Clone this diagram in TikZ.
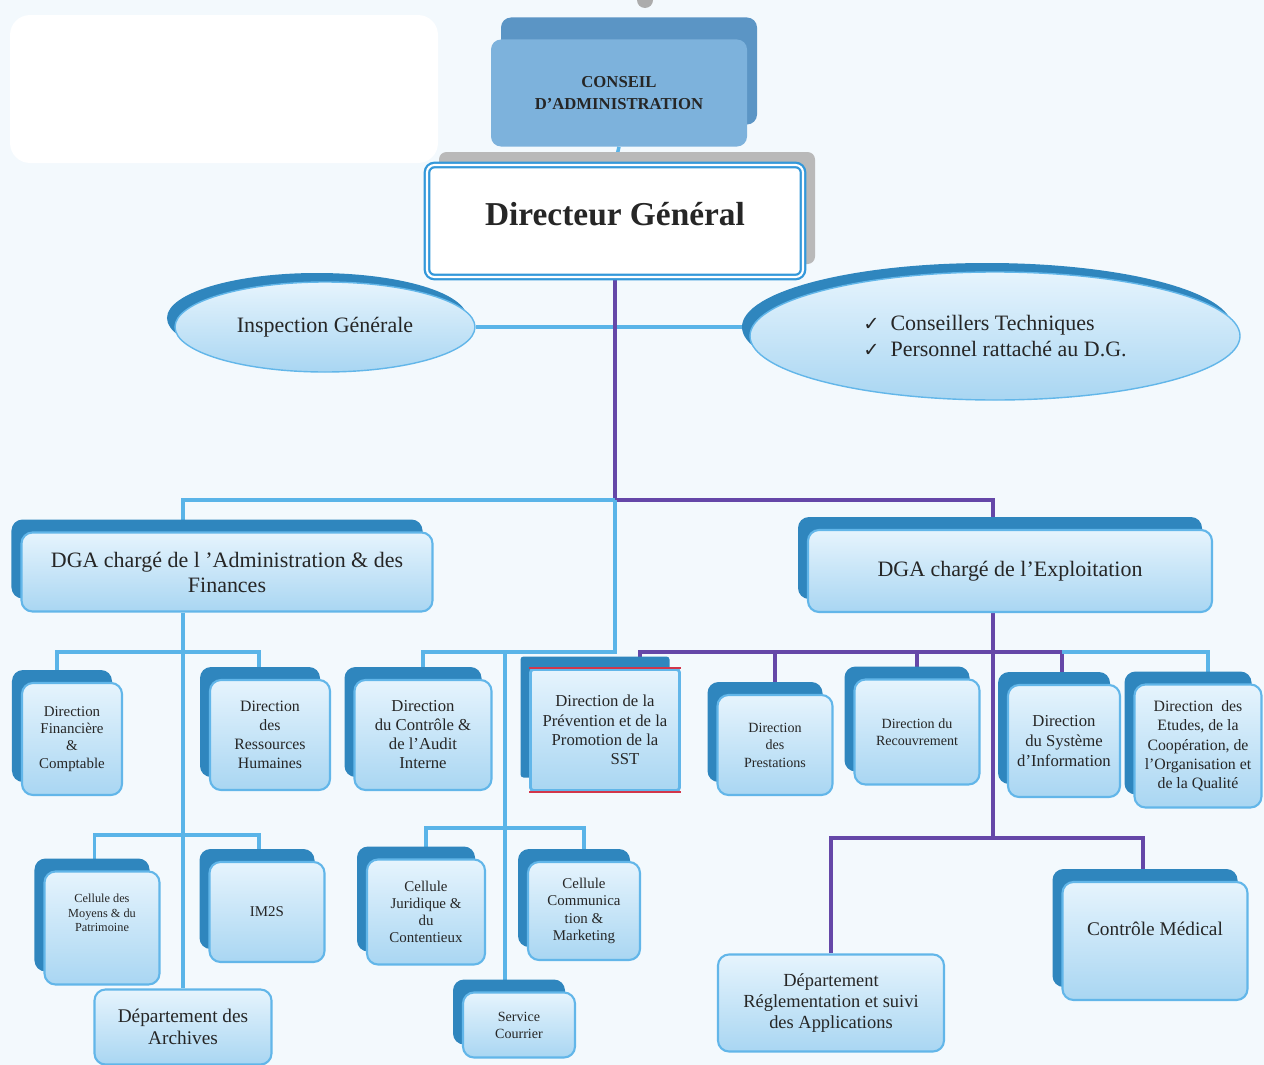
\documentclass[tikz,border=0pt]{standalone}
\usepackage{fontspec}
\setmainfont{Liberation Serif}
\newfontfamily\checkfont{DejaVu Sans}
\usetikzlibrary{shapes.geometric}
\usetikzlibrary{shadows}
\usetikzlibrary{backgrounds}

\definecolor{pagetint}{HTML}{F3F9FD}
\definecolor{ink}{HTML}{262626}
\definecolor{linkblue}{HTML}{5AB4E8}
\definecolor{linkpurple}{HTML}{6547A8}
\definecolor{rimblue}{HTML}{62B6E9}
\definecolor{dgrim}{HTML}{3398DA}
\definecolor{backblue}{HTML}{2F86BE}
\definecolor{faceTop}{HTML}{E6F4FD}
\definecolor{faceBot}{HTML}{A9D6F2}
\definecolor{caFront}{HTML}{7DB2DC}
\definecolor{caBack}{HTML}{5B95C5}
\definecolor{sstred}{HTML}{D2364B}

\begin{document}
\begin{tikzpicture}[x=0.2mm, y=-0.2mm]

\tikzset{unitbox/.style={rectangle, rounded corners=2.2mm, draw=rimblue, line width=1.2pt,
                         top color=faceTop, bottom color=faceBot, text=ink, align=center, inner sep=1pt,
                         general shadow={fill=backblue, shadow xshift=-2mm, shadow yshift=2.6mm}},
         flatbox/.style={rectangle, rounded corners=2.2mm, draw=rimblue, line width=1.2pt,
                         top color=faceTop, bottom color=faceBot, text=ink, align=center, inner sep=1pt},
         oval/.style={ellipse, draw=rimblue, line width=0.8pt, top color=faceTop, bottom color=faceBot,
                      text=ink, align=left, inner sep=0pt,
                      general shadow={fill=backblue, shadow xshift=-1.6mm, shadow yshift=1.8mm}},
         caface/.style={rectangle, rounded corners=2mm, fill=caFront, text=ink, align=center,
                        font=\bfseries\fontsize{9.5}{12.5}\selectfont,
                        general shadow={fill=caBack, shadow xshift=2mm, shadow yshift=4.4mm}},
         dgface/.style={rectangle, rounded corners=1.5mm, fill=white, draw=dgrim, line width=1.3pt,
                        double=white, double distance=1.2pt, text=ink, text depth=3mm,
                        font=\bfseries\fontsize{19}{22}\selectfont,
                        general shadow={fill=gray!55, shadow xshift=2.4mm, shadow yshift=2.6mm}},
         blueline/.style={draw=linkblue, line width=2pt},
         purpleline/.style={draw=linkpurple, line width=1.8pt}}

\useasboundingbox (0,0) rectangle (1264,1065);

%top of the chart
\node[caface, minimum width=51.2mm, minimum height=21.4mm] (ca) at (619,93) {CONSEIL\\D’ADMINISTRATION};
\node[dgface, minimum width=75.2mm, minimum height=22.4mm] (dg) at (615,221) {Directeur Général};

\node[oval, minimum width=60mm, minimum height=18mm, font=\fontsize{12.5}{14}\selectfont] (ig) at (325,327) {Inspection Générale};
\node[oval, minimum width=98mm, minimum height=25.6mm, font=\fontsize{12.5}{14.8}\selectfont] (ct) at (995,336)
     {{\checkfont\fontsize{11}{11}\selectfont ✓}\hspace{2.2mm}Conseillers Techniques\\
      {\checkfont\fontsize{11}{11}\selectfont ✓}\hspace{2.2mm}Personnel rattaché au D.G.};

%DGA
\node[unitbox, minimum width=82.2mm, minimum height=15.8mm, font=\fontsize{12.5}{14.2}\selectfont] (dgaA) at (227,572)
     {DGA chargé de l ’Administration \& des\\Finances};
\node[unitbox, minimum width=80.8mm, minimum height=16.4mm, font=\fontsize{12.5}{14.2}\selectfont] (dgaB) at (1010,571)
     {DGA chargé de l’Exploitation};

%directions
\node[unitbox, minimum width=20mm, minimum height=22.4mm, font=\fontsize{8.5}{9.8}\selectfont] (dfc) at (72,739)
     {Direction\\Financière\\\&\\Comptable};
\node[unitbox, minimum width=24mm, minimum height=22mm, font=\fontsize{9}{10.8}\selectfont] (drh) at (270,735)
     {Direction\\des\\Ressources\\Humaines};
\node[unitbox, minimum width=27.4mm, minimum height=22mm, font=\fontsize{9.5}{10.8}\selectfont] (dcai) at (423,735)
     {Direction\\du Contrôle \&\\de l’Audit\\Interne};
\node[unitbox, rounded corners=0.6mm, line width=1.6pt, minimum width=29.8mm, minimum height=24.2mm,
      font=\fontsize{9.5}{11}\selectfont] (dpps) at (605,730)
     {Direction de la\\Prévention et de la\\Promotion de la\\\hspace*{8mm}SST};
\node[unitbox, minimum width=23mm, minimum height=20mm, font=\fontsize{8}{10}\selectfont] (dp) at (775,745)
     {Direction\\des\\Prestations};
\node[unitbox, minimum width=25mm, minimum height=21mm, font=\fontsize{8}{9.5}\selectfont] (dr) at (917,732)
     {Direction du\\Recouvrement};
\node[unitbox, minimum width=22.4mm, minimum height=22.4mm, font=\fontsize{9.5}{11.4}\selectfont] (dsi) at (1064,741)
     {Direction\\du Système\\d’Information};
\node[unitbox, minimum width=25.4mm, minimum height=24.6mm, font=\fontsize{9}{11}\selectfont] (decoq) at (1198,746)
     {Direction\ \ des\\Etudes, de la\\Coopération, de\\l’Organisation et\\de la Qualité};

%cells and services
\node[unitbox, minimum width=23mm, minimum height=22.6mm, font=\fontsize{7}{8.2}\selectfont, text depth=6mm] (cmp) at (102,928)
     {Cellule des\\Moyens \& du\\Patrimoine};
\node[unitbox, minimum width=23mm, minimum height=20mm, font=\fontsize{8.5}{10}\selectfont] (im2s) at (267,912) {IM2S};
\node[unitbox, minimum width=23.6mm, minimum height=21mm, font=\fontsize{8.5}{9.7}\selectfont] (cjc) at (426,912)
     {Cellule\\Juridique \&\\du\\Contentieux};
\node[unitbox, minimum width=22.4mm, minimum height=19.6mm, font=\fontsize{8.5}{9.9}\selectfont] (ccm) at (584,911)
     {Cellule\\Communica\\tion \&\\Marketing};
\node[unitbox, minimum width=22.4mm, minimum height=13mm, font=\fontsize{8}{9.7}\selectfont] (sc) at (519,1025)
     {Service\\Courrier};
\node[flatbox, minimum width=35.4mm, minimum height=15mm, font=\fontsize{11}{12.5}\selectfont] (arch) at (183,1027)
     {Département des\\Archives};
\node[flatbox, minimum width=45.2mm, minimum height=19.4mm, font=\fontsize{10.5}{12.2}\selectfont] (drsa) at (831,1003)
     {Département\\Réglementation et suivi\\des Applications};
\node[unitbox, minimum width=37mm, minimum height=23.6mm, font=\fontsize{11}{13}\selectfont, text depth=5mm] (cm) at (1155,941)
     {Contrôle Médical};

%red frame of the SST box
\draw[sstred, line width=0.8pt] (dpps.north west) -- (dpps.north east);
\draw[sstred, line width=0.8pt] (dpps.south west) -- (dpps.south east);

\begin{scope}[on background layer]
\fill[pagetint] (0,0) rectangle (1264,1065);
\fill[white, rounded corners=4mm] (10,15) rectangle (438,163);
\fill[gray!65] (653,0) arc[start angle=0, end angle=180, radius=8];

%bus points
\coordinate (jA) at (615,500);
\coordinate (jC) at (615,652);
\coordinate (jE) at (993,652);
\coordinate (bL1) at (183,652);
\coordinate (bL2) at (183,835);
\coordinate (bC) at (505,828);
\coordinate (tSC) at (505,652);
\coordinate (tDSI) at (1062,652);
\coordinate (bE) at (993,838);

%links of the general direction
\draw[blueline] (ca.south) -- (dg.north);
\draw[blueline] (ig.east) -- (ct.west |- ig.east);
\draw[purpleline] (dg.south) -- (jA);
\draw[blueline] (jA) -| (arch.north |- dgaA.north);
\draw[purpleline] (jA) -| (jE |- dgaB.north);

%links under DGA administration
\draw[blueline] (arch.north |- dgaA.south) -- (arch.north);
\draw[blueline] ([xshift=-3mm]dfc.north) |- (bL1) -| ([xshift=-2.2mm]drh.north);
\draw[blueline] ([xshift=-1.5mm]cmp.north) |- (bL2) -| ([xshift=-1.6mm]im2s.north);
\draw[blueline] (jA) -- (jC) -| (dcai.north);
\draw[blueline] (tSC) -- (tSC |- sc.north);
\draw[blueline] (cjc.north) |- (bC) -| (ccm.north);

%links under DGA exploitation
\draw[purpleline] (jE |- dgaB.south) -- (bE);
\draw[purpleline] ([xshift=7mm]dpps.north) |- (tDSI) -- (tDSI |- dsi.north);
\draw[purpleline] (dp.north |- jE) -- (dp.north);
\draw[purpleline] (dr.north |- jE) -- (dr.north);
\draw[blueline] (tDSI) -| ([xshift=2mm]decoq.north);
\draw[purpleline] (drsa.north) |- (bE) -| ([xshift=-2.4mm]cm.north);
\end{scope}

\end{tikzpicture}
\end{document}
